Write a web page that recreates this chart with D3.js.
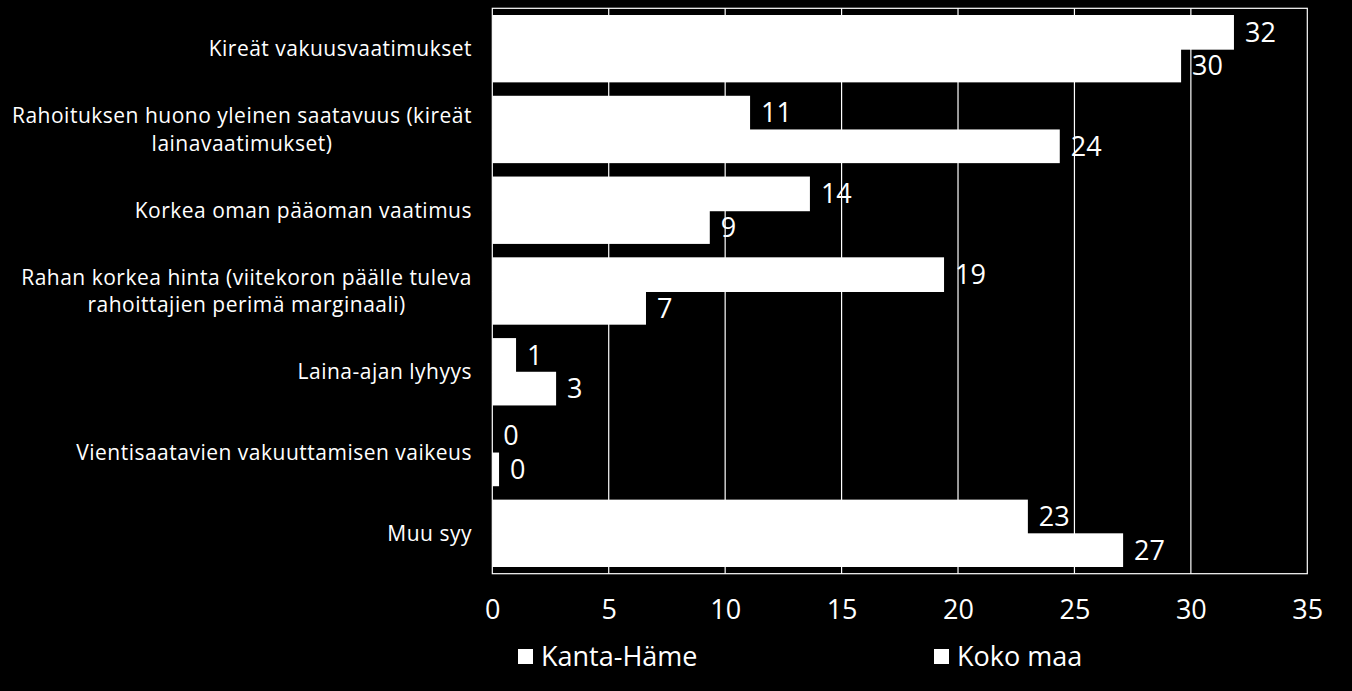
<!DOCTYPE html>
<html>
<head>
<meta charset="utf-8">
<script src="https://cdn.jsdelivr.net/npm/d3@7"></script>
<style>
  html, body { margin: 0; padding: 0; background: #000; }
  svg { display: block; }
  text { font-family: "Open Sans", sans-serif; fill: #fff; }
</style>
</head>
<body>
<svg id="chart" width="1352" height="691"></svg>
<script>
const categories = [
  "Kireät vakuusvaatimukset",
  "Rahoituksen huono yleinen saatavuus (kireät lainavaatimukset)",
  "Korkea oman pääoman vaatimus",
  "Rahan korkea hinta (viitekoron päälle tuleva rahoittajien perimä marginaali)",
  "Laina-ajan lyhyys",
  "Vientisaatavien vakuuttamisen vaikeus",
  "Muu syy"
];
const seriesNames = ["Kanta-Häme", "Koko maa"];
const kantaHame = [31.85, 11.07, 13.64, 19.40, 1.02, 0.0, 23.0];
const kokoMaa   = [29.58, 24.37, 9.34, 6.60, 2.74, 0.29, 27.09];
const xTicks = [0, 5, 10, 15, 20, 25, 30, 35];

const svg = d3.select("#chart");
const margin = { left: 492.3, right: 1352 - 1307.3, top: 8.3, bottom: 691 - 573.7 };
const W = 1352, H = 691;

const x = d3.scaleLinear().domain([0, 35]).range([margin.left, W - margin.right]);
const y0 = d3.scaleBand().domain(categories).range([margin.top, H - margin.bottom]).paddingInner(0.166).paddingOuter(0.083);
const y1 = d3.scaleBand().domain(seriesNames).range([0, y0.bandwidth()]);

const data = categories.map((c, i) => ({ cat: c, vals: [
  { s: seriesNames[0], v: kantaHame[i] },
  { s: seriesNames[1], v: kokoMaa[i] }
]}));

// gridlines
svg.append("g").selectAll("line").data(xTicks.slice(1, -1)).join("line")
  .attr("x1", d => x(d)).attr("x2", d => x(d))
  .attr("y1", margin.top).attr("y2", H - margin.bottom)
  .attr("stroke", "#fff").attr("stroke-width", 1.2);

// plot border
svg.append("rect")
  .attr("x", x(0)).attr("y", margin.top)
  .attr("width", x(35) - x(0)).attr("height", H - margin.bottom - margin.top)
  .attr("fill", "none").attr("stroke", "#fff").attr("stroke-width", 1.2);

// bars
const groups = svg.append("g").selectAll("g").data(data).join("g")
  .attr("transform", d => `translate(0,${y0(d.cat)})`);
groups.selectAll("rect").data(d => d.vals).join("rect")
  .attr("x", x(0)).attr("y", d => y1(d.s))
  .attr("width", d => x(d.v) - x(0))
  .attr("height", (d, i) => y1.bandwidth() + (i === 0 ? 1 : 0))
  .attr("fill", "#fff");
groups.selectAll("text").data(d => d.vals).join("text")
  .attr("x", d => x(d.v) + 11).attr("y", d => y1(d.s) + y1.bandwidth() / 2)
  .attr("dy", "0.36em")
  .style("font-size", "27px")
  .text(d => Math.round(d.v));

// x axis tick labels
const xAxis = d3.axisBottom(x).tickValues(xTicks).tickSize(0).tickPadding(0);
const gx = svg.append("g").attr("transform", `translate(0,${H - margin.bottom})`).call(xAxis);
gx.select(".domain").remove();
gx.selectAll("text").attr("y", 45).attr("dy", 0)
  .style("font-size", "27px").style("font-family", "'Open Sans', sans-serif").attr("fill", "#fff");

// category labels with wrapping (block right-aligned, lines centred)
const lineH = 27.5;
const catFont = "21px";
const catSpacing = "0.5px";
const labelRight = 472;
const catG = svg.append("g");
data.forEach(d => {
  const probe = catG.append("text").style("font-size", catFont).style("letter-spacing", catSpacing);
  const measure = s => { probe.text(s); return probe.node().getComputedTextLength(); };
  const words = d.cat.split(" ");
  const lines = [];
  let cur = [];
  words.forEach(w => {
    const test = cur.concat([w]).join(" ");
    if (measure(test) > 470 && cur.length) {
      lines.push(cur.join(" "));
      cur = [w];
    } else cur.push(w);
  });
  lines.push(cur.join(" "));
  const maxW = d3.max(lines, measure);
  probe.remove();
  const cx = labelRight - maxW / 2;
  const cy = y0(d.cat) + y0.bandwidth() / 2;
  const t = catG.append("text").attr("text-anchor", "middle")
    .style("font-size", catFont).style("letter-spacing", catSpacing);
  lines.forEach((ln, j) => {
    t.append("tspan").attr("x", cx)
      .attr("y", cy + (j - (lines.length - 1) / 2) * lineH)
      .attr("dy", "0.36em")
      .text(ln);
  });
});

// legend
const legend = svg.append("g");
const legendX = [518, 934];
seriesNames.forEach((s, i) => {
  legend.append("rect").attr("x", legendX[i]).attr("y", 649).attr("width", 15).attr("height", 15).attr("fill", "#fff");
  legend.append("text").attr("x", legendX[i] + 23).attr("y", 666).style("font-size", "27px").text(s);
});
</script>
</body>
</html>
